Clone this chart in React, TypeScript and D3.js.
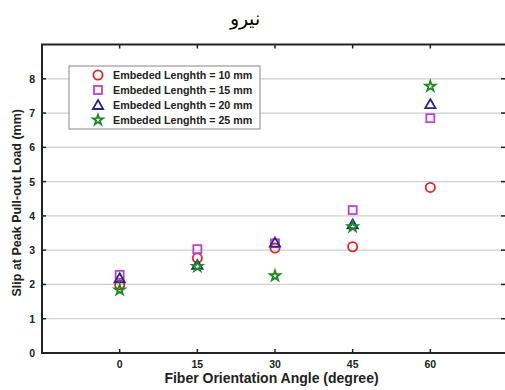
import React, { useRef, useEffect } from "react";
import * as d3 from "d3";

const angles = [0, 15, 30, 45, 60];
const xTicks = [0, 15, 30, 45, 60];
const yTicks = [0, 1, 2, 3, 4, 5, 6, 7, 8];

const len10 = [1.99, 2.77, 3.06, 3.1, 4.83];
const len15 = [2.28, 3.03, 3.2, 4.17, 6.85];
const len20 = [2.18, 2.57, 3.22, 3.75, 7.26];
const len25 = [1.84, 2.52, 2.25, 3.68, 7.78];

const seriesNames = [
  "Embeded Lenghth = 10 mm",
  "Embeded Lenghth = 15 mm",
  "Embeded Lenghth = 20 mm",
  "Embeded Lenghth = 25 mm",
];
const seriesValues = [len10, len15, len20, len25];
const colors = ["#e3242b", "#c13fd0", "#22288f", "#1d8a22"];
const shapes = ["circle", "square", "triangle", "star"];

const App = () => {
  const ref = useRef<SVGSVGElement>(null);

  useEffect(() => {
    const svg = d3.select(ref.current);
    svg.selectAll("*").remove();

    const left = 42;
    const right = 508;
    const top = 44.5;
    const bottom = 353;

    const x = d3.scaleLinear().domain([-15, 75]).range([left, right]);
    const y = d3.scaleLinear().domain([0, 9]).range([bottom, top]);

    svg.append("rect").attr("width", 505).attr("height", 390).attr("fill", "#fff");

    // title
    svg
      .append("text")
      .attr("x", 245)
      .attr("y", 25)
      .attr("text-anchor", "middle")
      .attr("font-family", "serif")
      .attr("font-size", 19)
      .text("نيرو");

    // grid
    svg
      .append("g")
      .selectAll("line")
      .data(yTicks.filter((d) => d > 0))
      .enter()
      .append("line")
      .attr("x1", left)
      .attr("x2", right)
      .attr("y1", (d) => y(d))
      .attr("y2", (d) => y(d))
      .attr("stroke", "#cfcfcf")
      .attr("stroke-width", 1.2);

    const fontFam = "'Liberation Sans', Arial, sans-serif";

    // ticks (inward) on all sides
    const tickG = svg.append("g").attr("stroke", "#222").attr("stroke-width", 1.5);
    xTicks.forEach((t) => {
      tickG.append("line").attr("x1", x(t)).attr("x2", x(t)).attr("y1", bottom).attr("y2", bottom - 4);
      tickG.append("line").attr("x1", x(t)).attr("x2", x(t)).attr("y1", top).attr("y2", top + 4);
    });
    yTicks.forEach((t) => {
      tickG.append("line").attr("x1", left).attr("x2", left + 4).attr("y1", y(t)).attr("y2", y(t));
      tickG.append("line").attr("x1", 505).attr("x2", 501).attr("y1", y(t)).attr("y2", y(t));
    });

    // frame
    svg
      .append("rect")
      .attr("x", left)
      .attr("y", top)
      .attr("width", right - left)
      .attr("height", bottom - top)
      .attr("fill", "none")
      .attr("stroke", "#222")
      .attr("stroke-width", 2);

    // tick labels
    svg
      .append("g")
      .selectAll("text")
      .data(xTicks)
      .enter()
      .append("text")
      .attr("x", (d) => x(d))
      .attr("y", bottom + 15)
      .attr("text-anchor", "middle")
      .attr("font-family", fontFam)
      .attr("font-weight", "bold")
      .attr("font-size", 10.5)
      .attr("fill", "#222")
      .text((d) => d);

    svg
      .append("g")
      .selectAll("text")
      .data(yTicks)
      .enter()
      .append("text")
      .attr("x", left - 7)
      .attr("y", (d) => y(d) + 4)
      .attr("text-anchor", "end")
      .attr("font-family", fontFam)
      .attr("font-weight", "bold")
      .attr("font-size", 10.5)
      .attr("fill", "#222")
      .text((d) => d);

    // axis labels
    svg
      .append("text")
      .attr("x", (left + 505) / 2 - 2)
      .attr("y", 383)
      .attr("text-anchor", "middle")
      .attr("font-family", fontFam)
      .attr("font-weight", "bold")
      .attr("font-size", 14)
      .attr("fill", "#222")
      .text("Fiber Orientation Angle (degree)");

    svg
      .append("text")
      .attr("transform", `translate(21,${(top + bottom) / 2 + 4}) rotate(-90)`)
      .attr("text-anchor", "middle")
      .attr("font-family", fontFam)
      .attr("font-weight", "bold")
      .attr("font-size", 12.5)
      .attr("fill", "#222")
      .text("Slip at Peak Pull-out Load (mm)");

    const drawMarker = (g, shape, cx, cy, color) => {
      if (shape === "circle") {
        g.append("circle").attr("cx", cx).attr("cy", cy).attr("r", 4.6)
          .attr("fill", "none").attr("stroke", color).attr("stroke-width", 1.8);
      } else if (shape === "square") {
        g.append("rect").attr("x", cx - 4).attr("y", cy - 4).attr("width", 8).attr("height", 8)
          .attr("fill", "none").attr("stroke", color).attr("stroke-width", 1.8);
      } else if (shape === "triangle") {
        g.append("path")
          .attr("d", d3.symbol(d3.symbolTriangle, 46)())
          .attr("transform", `translate(${cx},${cy + 1})`)
          .attr("fill", "none").attr("stroke", color).attr("stroke-width", 1.8);
      } else {
        g.append("path")
          .attr("d", d3.symbol(d3.symbolStar, 32)())
          .attr("transform", `translate(${cx},${cy})`)
          .attr("fill", "none").attr("stroke", color).attr("stroke-width", 1.8);
      }
    };

    // points
    const pts = svg.append("g");
    seriesValues.forEach((vals, i) => {
      vals.forEach((v, j) => {
        drawMarker(pts, shapes[i], x(angles[j]), y(v), colors[i]);
      });
    });

    // legend
    const lg = svg.append("g");
    lg.append("rect")
      .attr("x", 69)
      .attr("y", 66)
      .attr("width", 191)
      .attr("height", 63)
      .attr("fill", "#fff")
      .attr("stroke", "#888")
      .attr("stroke-width", 1);
    seriesNames.forEach((name, i) => {
      const ly = 75 + i * 15;
      drawMarker(lg, shapes[i], 98, ly, colors[i]);
      lg.append("text")
        .attr("x", 113)
        .attr("y", ly + 4)
        .attr("font-family", fontFam)
        .attr("font-weight", "bold")
        .attr("font-size", 10.7)
        .attr("fill", "#222")
        .text(name);
    });

    return () => {
      svg.selectAll("*").remove();
    };
  }, []);

  return (
    <svg
      ref={ref}
      width={505}
      height={390}
      style={{ position: "absolute", left: 0, top: 0, display: "block" }}
    />
  );
};

export default App;
